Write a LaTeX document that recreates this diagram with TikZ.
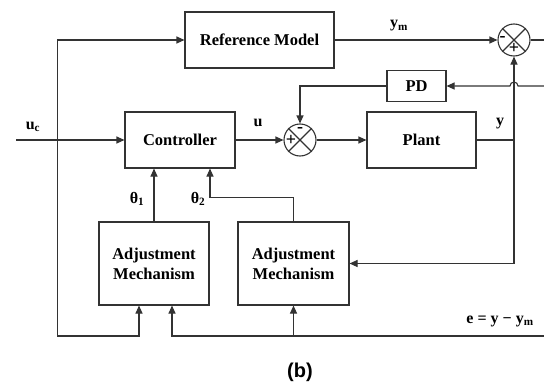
\documentclass[tikz,border=0pt]{standalone}
\usepackage{fontspec}
\setmainfont{Liberation Serif}
\newfontfamily\capfont{Liberation Sans}
\usetikzlibrary{arrows.meta,shapes.misc}
\begin{document}
\begin{tikzpicture}[x=1pt,y=-1pt,
  ln/.style={draw=black!80,line width=1.1pt},
  arr/.style={ln,-{Triangle[length=8pt,width=7pt]}},
  blk/.style={ln,rectangle,inner sep=0pt,align=center,font=\fontsize{16.5}{20}\selectfont\bfseries},
  sumc/.style={ln,circle,minimum size=32pt,inner sep=0pt},
  lbl/.style={font=\fontsize{16}{18}\selectfont\bfseries,inner sep=0pt},
  sgn/.style={font=\fontsize{18}{18}\selectfont\bfseries,inner sep=0pt}]
\useasboundingbox (0,0) rectangle (544,383);
\node[blk,minimum width=149pt,minimum height=56pt] (ref) at (259.5,40) {Reference Model};
\node[blk,minimum width=110pt,minimum height=56pt] (ctrl) at (180,140) {Controller};
\node[blk,minimum width=109pt,minimum height=56pt] (plant) at (421.5,140) {Plant};
\node[blk,minimum width=59pt,minimum height=31pt] (pd) at (416.5,86) {PD};
\node[blk,minimum width=110pt,minimum height=83pt] (am1) at (154,263.5) {Adjustment\\Mechanism};
\node[blk,minimum width=111pt,minimum height=83pt] (am2) at (293.5,263.5) {Adjustment\\Mechanism};
\node[sumc] (s1) at (514,40) {};
\node[sumc] (s2) at (300,140) {};
\draw[ln] (s1.north west) -- (s1.south east) (s1.north east) -- (s1.south west);
\draw[ln] (s2.north west) -- (s2.south east) (s2.north east) -- (s2.south west);
\node[sgn] (s1m) at (502.5,38.5) {-};
\node[sgn] (s1p) at (514,48.5) {+};
\node[sgn] (s2p) at (291,140.5) {+};
\node[sgn] (s2m) at (300,130) {-};
\coordinate (ucin) at (16,140);
\coordinate (j1) at (57.5,140);
\coordinate (jb) at (57.5,336);
\coordinate (eR) at (544,336);
\coordinate (jy) at (514,140);
\coordinate (outR) at (544,40);
\coordinate (pdR) at (544,86);
\coordinate (hop) at (518,86);
\draw[arr] (ucin) -- (ctrl.west);
\draw[arr] (j1) |- (ref.west);
\draw[arr] (j1) -- (jb) -| ([xshift=-15pt]am1.south);
\draw[arr] (eR) -| ([xshift=18pt]am1.south);
\draw[arr] (am2.south |- eR) -- (am2.south);
\draw[arr] (am1.north) -- (ctrl.south -| am1.north);
\draw[arr] (am2.north) -- ++(0,-24) -| ([xshift=30pt]ctrl.south);
\draw[arr] (ctrl.east) -- (s2.west);
\draw[arr] (s2.east) -- (plant.west);
\draw[ln] (plant.east) -- (jy);
\draw[arr] (jy) -- (s1.south);
\draw[arr] (jy) |- (am2.east);
\draw[arr] (ref.east) -- (s1.west);
\draw[ln] (s1.east) -- (outR);
\draw[arr] (pdR) -- (hop) arc[start angle=0,end angle=180,radius=4pt] -- (pd.east);
\draw[arr] (pd.west) -| (s2.north);
\node[lbl] (uc) at (33,127) {u\textsubscript{c}};
\node[lbl] (u) at (258,123) {u};
\node[lbl] (ym) at (399,26) {y\textsubscript{m}};
\node[lbl] (y) at (500,124) {y};
\node[lbl] (t1) at (137,199) {θ\textsubscript{1}};
\node[lbl] (t2) at (198,199) {θ\textsubscript{2}};
\node[lbl] (e) at (500,321) {e = y − y\textsubscript{m}};
\node[font=\fontsize{20}{22}\selectfont\capfont\bfseries,inner sep=0pt] (cap) at (300,372) {(b)};
\end{tikzpicture}
\end{document}
